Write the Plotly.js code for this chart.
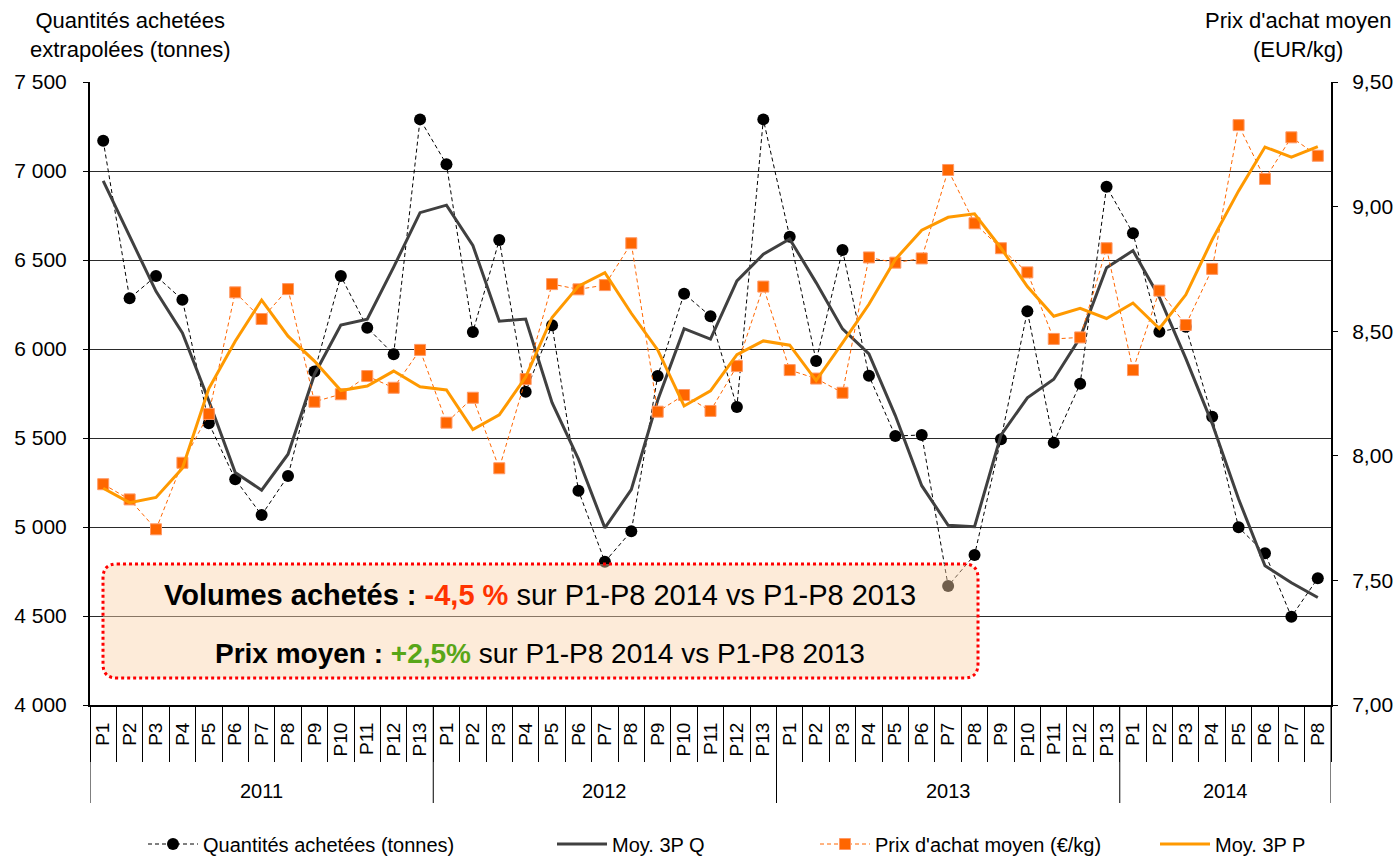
<!DOCTYPE html>
<html><head><meta charset="utf-8">
<script src="https://cdn.plot.ly/plotly-3.0.1.min.js"></script>
<style>body{margin:0;background:#fff}#chart{width:1400px;height:858px}</style>
</head><body><div id="chart"></div>
<script>
const years = ['2011','2012','2013','2014'];
const periodsPerYear = [13,13,13,8];
const periodLabels = ['P1','P2','P3','P4','P5','P6','P7','P8','P9','P10','P11','P12','P13'];

const quantites = [
  7170, 6285, 6410, 6277, 5583, 5268, 5067, 5287, 5873, 6410, 6120, 5970, 7290,
  7038, 6096, 6612, 5760, 6133, 5204, 4805, 4976, 5848, 6311, 6184, 5674, 7290,
  6631, 5933, 6556, 5850, 5511, 5517, 4669, 4843, 5493, 6212, 5474, 5805, 6912,
  6650, 6097, 6125, 5620, 4998, 4852, 4496, 4712
];
const moyQ = [
  6944, 6630, 6324, 6090, 5709, 5306, 5207, 5409, 5857, 6134, 6167, 6460, 6766,
  6808, 6582, 6156, 6168, 5699, 5381, 4995, 5210, 5712, 6114, 6056, 6383, 6532,
  6618, 6373, 6113, 5972, 5626, 5232, 5010, 5002, 5516, 5726, 5830, 6064, 6456,
  6553, 6291, 5947, 5581, 5157, 4782, 4687, 4604
];
const prix = [
  7.886, 7.825, 7.705, 7.972, 8.168, 8.656, 8.549, 8.669, 8.217, 8.247, 8.320, 8.273, 8.425,
  8.133, 8.233, 7.950, 8.308, 8.689, 8.668, 8.685, 8.853, 8.177, 8.244, 8.180, 8.360, 8.679,
  8.344, 8.310, 8.253, 8.796, 8.775, 8.792, 9.147, 8.933, 8.833, 8.736, 8.469, 8.475, 8.833,
  8.344, 8.663, 8.525, 8.750, 9.327, 9.111, 9.278, 9.204
];
const moyP = [
  7.870, 7.812, 7.833, 7.950, 8.270, 8.460, 8.625, 8.480, 8.380, 8.262, 8.280, 8.340, 8.277,
  8.264, 8.105, 8.164, 8.316, 8.555, 8.681, 8.735, 8.572, 8.425, 8.200, 8.261, 8.406, 8.461,
  8.444, 8.302, 8.453, 8.608, 8.788, 8.905, 8.957, 8.971, 8.834, 8.679, 8.560, 8.592, 8.551,
  8.613, 8.511, 8.646, 8.867, 9.063, 9.239, 9.198, 9.241
];

// category positions and labels built from the arrays above
const xPer = [];
const yearStarts = [];
years.forEach((yr, i) => {
  yearStarts.push(xPer.length);
  for (let k = 0; k < periodsPerYear[i]; k++) xPer.push(periodLabels[k]);
});
const xIdx = xPer.map((_, i) => i);
const nCat = xPer.length;

const FONT = 'Liberation Sans, Arial, sans-serif';

const traces = [
  {type:'scatter', mode:'lines+markers', x:xIdx, y:quantites, name:'Quantités achetées (tonnes)',
   line:{color:'#000000', width:1, dash:'4px,3px'}, marker:{symbol:'circle', size:12, color:'#000000'},
   legend:'legend'},
  {type:'scatter', mode:'lines', x:xIdx, y:moyQ, name:'Moy. 3P Q',
   line:{color:'#404040', width:3}, legend:'legend2'},
  {type:'scatter', mode:'lines+markers', x:xIdx, y:prix, yaxis:'y2', name:"Prix d'achat moyen (€/kg)",
   line:{color:'#FF6600', width:1, dash:'4px,3px'},
   marker:{symbol:'square', size:11, color:'#FF6600', line:{color:'#FF9966', width:1}},
   legend:'legend3'},
  {type:'scatter', mode:'lines', x:xIdx, y:moyP, yaxis:'y2', name:'Moy. 3P P',
   line:{color:'#FF9900', width:3}, legend:'legend4'}
];

const W = 1241, H = 623, L = 90, T = 82;
const px = v => (v - L) / W;
const py = v => (T + H - v) / H;

// rounded box
const bx0 = px(103), bx1 = px(978), by1 = py(564), by0 = py(678);
const rx = 14 / W, ry = 14 / H;
const boxPath = `M ${bx0+rx},${by1} L ${bx1-rx},${by1} Q ${bx1},${by1} ${bx1},${by1-ry} L ${bx1},${by0+ry} Q ${bx1},${by0} ${bx1-rx},${by0} L ${bx0+rx},${by0} Q ${bx0},${by0} ${bx0},${by0+ry} L ${bx0},${by1-ry} Q ${bx0},${by1} ${bx0+rx},${by1} Z`;

const shapes = [
  {type:'path', xref:'paper', yref:'paper', path:boxPath, layer:'above',
   fillcolor:'rgba(251,210,170,0.45)', line:{color:'#FF0000', width:3, dash:'dot'}}
];
const annotations = [
  {xref:'paper', yref:'paper', x:px(130), y:py(35), xanchor:'center', yanchor:'middle', showarrow:false,
   text:'Quantités achetées<br>extrapolées (tonnes)', font:{family:FONT, size:22, color:'#000'}},
  {xref:'paper', yref:'paper', x:px(1298), y:py(35), xanchor:'center', yanchor:'middle', showarrow:false,
   text:"Prix d'achat moyen<br>(EUR/kg)", font:{family:FONT, size:22, color:'#000'}},
  {xref:'paper', yref:'paper', x:px(540), y:py(595), xanchor:'center', yanchor:'middle', showarrow:false,
   text:'<b>Volumes achetés : <span style="color:#FF3300">-4,5 %</span></b> sur P1-P8 2014 vs P1-P8 2013',
   font:{family:FONT, size:29, color:'#000'}},
  {xref:'paper', yref:'paper', x:px(540), y:py(653), xanchor:'center', yanchor:'middle', showarrow:false,
   text:'<b>Prix moyen : <span style="color:#58A618">+2,5%</span></b> sur P1-P8 2014 vs P1-P8 2013',
   font:{family:FONT, size:28, color:'#000'}}
];
// year dividers and year labels (second level of the category axis)
years.forEach((yr, i) => {
  const s = yearStarts[i], n = periodsPerYear[i];
  annotations.push({xref:'x', yref:'paper', x:s + (n - 1) / 2, y:py(791), xanchor:'center', yanchor:'middle',
    showarrow:false, text:yr, font:{family:FONT, size:20, color:'#000'}});
  shapes.push({type:'line', xref:'x', yref:'paper', x0:s - 0.5, x1:s - 0.5, y0:0, y1:py(803),
    line:{color:'#000', width:1}});
});
shapes.push({type:'line', xref:'x', yref:'paper', x0:nCat - 0.5, x1:nCat - 0.5, y0:0, y1:py(803),
  line:{color:'#000', width:1}});

const legBase = {orientation:'h', xref:'container', yref:'container', y:1 - 844/858, yanchor:'middle', xanchor:'left',
  font:{family:FONT, size:20, color:'#000'}, bgcolor:'rgba(0,0,0,0)', itemwidth:50};

const layout = {
  width:1400, height:858,
  margin:{l:L, r:1400-L-W, t:T, b:858-T-H, pad:0},
  paper_bgcolor:'#ffffff', plot_bgcolor:'#ffffff',
  separators:', ',
  font:{family:FONT, size:20, color:'#000'},
  hovermode:false,
  showlegend:true,
  xaxis:{type:'linear', range:[-0.5, nCat - 0.5], tickmode:'array', tickvals:xIdx, ticktext:xPer,
    ticks:'', tickangle:-90, tickfont:{family:FONT, size:19, color:'#000'}, ticklabelstandoff:8,
    showline:true, linecolor:'#000', linewidth:2, showgrid:false, zeroline:false, automargin:false,
    minor:{tickmode:'linear', tick0:-0.5, dtick:1, ticks:'outside', ticklen:55, tickcolor:'#000', tickwidth:1, showgrid:false}},
  yaxis:{range:[4000,7500], dtick:500, tick0:4000, tickformat:',.0f', showgrid:true, gridcolor:'#2a2a2a', gridwidth:1,
    showline:true, linecolor:'#000', linewidth:2, ticks:'outside', ticklen:5, tickcolor:'#000', automargin:false,
    ticklabelstandoff:12, zeroline:false, tickfont:{family:FONT, size:21, color:'#000'}},
  yaxis2:{range:[7,9.5], dtick:0.5, tick0:7, tickformat:'.2f', overlaying:'y', side:'right', showgrid:false,
    showline:true, linecolor:'#000', linewidth:2, ticks:'outside', ticklen:5, tickcolor:'#000', automargin:false,
    ticklabelstandoff:10, zeroline:false, tickfont:{family:FONT, size:21, color:'#000'}},
  legend:Object.assign({}, legBase, {x:143/1400}),
  legend2:Object.assign({}, legBase, {x:552/1400}),
  legend3:Object.assign({}, legBase, {x:815/1400}),
  legend4:Object.assign({}, legBase, {x:1155/1400}),
  shapes:shapes,
  annotations:annotations
};

Plotly.newPlot('chart', traces, layout, {displayModeBar:false, staticPlot:true});
</script>
</body></html>
